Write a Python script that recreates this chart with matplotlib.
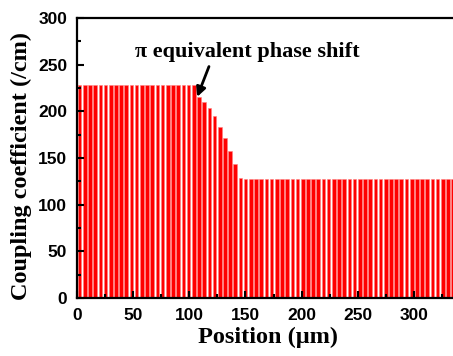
import numpy as np
import matplotlib.pyplot as plt
from matplotlib.ticker import MultipleLocator

# ===== 数据：耦合系数分布 =====
pitch = 4.62                     # 取样周期 (µm)
kappa_high = 228.0               # 左侧平台 (/cm)
kappa_low = 127.0                # 右侧平台 (/cm)
n_high = 23                      # 左侧平台段数
kappa_ramp = [215, 210.5, 203.5, 194.5, 183.5, 171, 157.5, 143.5, 129]
n_low = 50                       # 右侧平台段数

kappa = np.array([kappa_high] * n_high + kappa_ramp + [kappa_low] * n_low)
pos = (np.arange(len(kappa)) + 0.5) * pitch

# ===== 绘图 =====
fig = plt.figure(figsize=(4.53, 3.56), dpi=100)
ax = fig.add_axes([77 / 453, 58 / 356, (460 - 77) / 453, 280 / 356])

ax.bar(pos, kappa, width=pitch * 0.7, color='red', edgecolor='#ff8080', linewidth=0.4)

ax.set_xlim(0, 341)
ax.set_ylim(0, 300)
ax.xaxis.set_major_locator(MultipleLocator(50))
ax.xaxis.set_minor_locator(MultipleLocator(25))
ax.yaxis.set_major_locator(MultipleLocator(50))
ax.yaxis.set_minor_locator(MultipleLocator(25))
ax.tick_params(which='both', direction='in', width=1.5)
ax.tick_params(which='major', length=5)
ax.tick_params(which='minor', length=3)
ax.tick_params(axis='x', which='major', pad=7)
ax.tick_params(axis='y', which='major', pad=7)
for s in ax.spines.values():
    s.set_linewidth(1.6)

for lab in ax.get_xticklabels() + ax.get_yticklabels():
    lab.set_fontfamily('Liberation Sans')
    lab.set_fontweight('bold')
    lab.set_fontsize(12.5)

serif = {'family': 'Liberation Serif', 'weight': 'bold', 'size': 17.5}
ax.set_xlabel('Position (μm)', fontdict=serif, labelpad=3)
ax.set_ylabel('Coupling coefficient (/cm)', fontdict=serif)
ax.yaxis.set_label_coords(-0.118, 0.47)

# π 等效相移标注
ax.text(51.5, 264, 'π equivalent phase shift', fontfamily='Liberation Serif',
        fontweight='bold', fontsize=16, va='center', ha='left')
ax.annotate('', xy=(107, 215.5), xytext=(117.5, 248),
            arrowprops=dict(arrowstyle='-|>', color='black', lw=2,
                            mutation_scale=14, shrinkA=0, shrinkB=0))

fig.savefig('out.png', dpi=100)
